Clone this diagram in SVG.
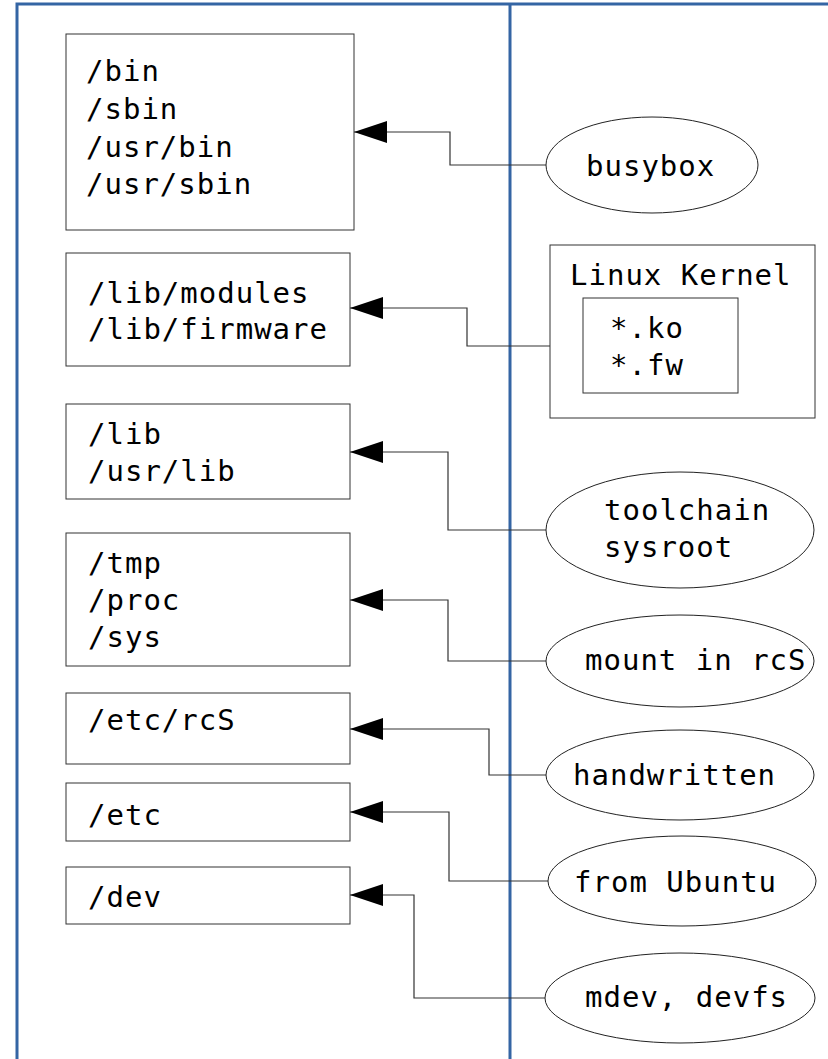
<svg xmlns="http://www.w3.org/2000/svg" width="828" height="1059" viewBox="0 0 828 1059">
<style>
  .frame{fill:none;stroke:#3465a4;stroke-width:3}
  .box{fill:#fff;stroke:#333;stroke-width:1}
  .ell{fill:#fff;stroke:#222;stroke-width:1}
  .t{font-family:"DejaVu Sans Mono","Liberation Mono",monospace;font-size:29px;letter-spacing:1px;fill:#000}
  .conn{fill:none;stroke:#333;stroke-width:1.2}
</style>
<defs>
  <marker id="arr" markerUnits="userSpaceOnUse" markerWidth="33" markerHeight="22" viewBox="0 0 33 22" refX="33" refY="11" orient="auto">
    <path d="M0,0 L33,11 L0,22 z" fill="#000"/>
  </marker>
</defs>
<rect width="828" height="1059" fill="#fff"/>
<rect class="frame" x="17" y="4" width="900" height="1100"/>
<line class="frame" x1="510" y1="4" x2="510" y2="1059" stroke-width="3.5"/>

<g id="connectors">
  <path class="conn" d="M546,165 H450 V132 H354" marker-end="url(#arr)"/>
  <path class="conn" d="M583,346 H467 V308 H350" marker-end="url(#arr)"/>
  <path class="conn" d="M546,530 H448 V452 H350" marker-end="url(#arr)"/>
  <path class="conn" d="M546,661 H448 V600 H350" marker-end="url(#arr)"/>
  <path class="conn" d="M546,775 H489 V729 H350" marker-end="url(#arr)"/>
  <path class="conn" d="M548,881 H449 V812 H350" marker-end="url(#arr)"/>
  <path class="conn" d="M545,998 H414 V895 H350" marker-end="url(#arr)"/>
</g>

<g id="bin">
  <rect class="box" x="66" y="34" width="288" height="196"/>
  <text class="t" x="86" y="81">/bin</text>
  <text class="t" x="86" y="119">/sbin</text>
  <text class="t" x="86" y="157">/usr/bin</text>
  <text class="t" x="86" y="194">/usr/sbin</text>
</g>
<g id="libmod">
  <rect class="box" x="66" y="253" width="284" height="113"/>
  <text class="t" x="88" y="303">/lib/modules</text>
  <text class="t" x="88" y="339">/lib/firmware</text>
</g>
<g id="lib">
  <rect class="box" x="66" y="404" width="284" height="95"/>
  <text class="t" x="88" y="444">/lib</text>
  <text class="t" x="88" y="481">/usr/lib</text>
</g>
<g id="tmp">
  <rect class="box" x="66" y="533" width="284" height="133"/>
  <text class="t" x="88" y="573">/tmp</text>
  <text class="t" x="88" y="610">/proc</text>
  <text class="t" x="88" y="647">/sys</text>
</g>
<g id="rcs">
  <rect class="box" x="66" y="693" width="284" height="71"/>
  <text class="t" x="88" y="730">/etc/rcS</text>
</g>
<g id="etc">
  <rect class="box" x="66" y="783" width="284" height="58"/>
  <text class="t" x="88" y="825">/etc</text>
</g>
<g id="dev">
  <rect class="box" x="66" y="867" width="284" height="57"/>
  <text class="t" x="88" y="907">/dev</text>
</g>

<g id="busybox">
  <ellipse class="ell" cx="652" cy="165" rx="106" ry="48"/>
  <text class="t" x="586" y="176">busybox</text>
</g>
<g id="kernel">
  <rect class="box" x="550" y="245" width="265" height="173"/>
  <text class="t" x="570" y="285">Linux Kernel</text>
  <rect class="box" x="583" y="298" width="155" height="95"/>
  <text class="t" x="610" y="338">*.ko</text>
  <text class="t" x="610" y="375">*.fw</text>
</g>
<g id="toolchain">
  <ellipse class="ell" cx="680" cy="530" rx="134" ry="58"/>
  <text class="t" x="604" y="520">toolchain</text>
  <text class="t" x="604" y="557">sysroot</text>
</g>
<g id="mount">
  <ellipse class="ell" cx="680" cy="661" rx="134" ry="46"/>
  <text class="t" x="585" y="670">mount in rcS</text>
</g>
<g id="handwritten">
  <ellipse class="ell" cx="680" cy="775" rx="134" ry="45"/>
  <text class="t" x="573" y="785">handwritten</text>
</g>
<g id="ubuntu">
  <ellipse class="ell" cx="682" cy="881" rx="134" ry="45"/>
  <text class="t" x="574" y="892">from Ubuntu</text>
</g>
<g id="mdev">
  <ellipse class="ell" cx="680" cy="998" rx="135" ry="45"/>
  <text class="t" x="585" y="1007">mdev, devfs</text>
</g>
</svg>
